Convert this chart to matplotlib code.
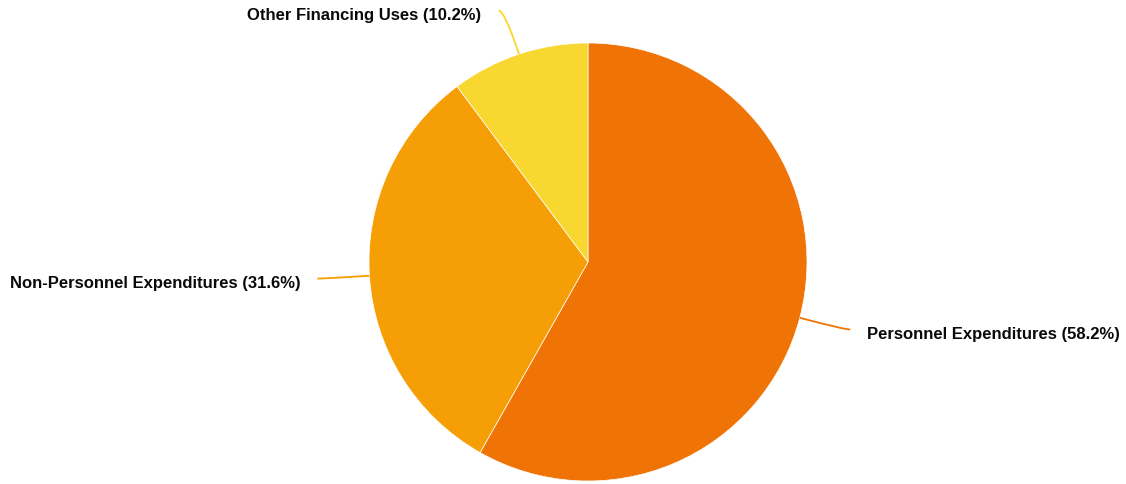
import numpy as np
import matplotlib.pyplot as plt
from matplotlib.path import Path
from matplotlib.patches import PathPatch

labels = ['Personnel Expenditures', 'Non-Personnel Expenditures', 'Other Financing Uses']
shares = [58.2, 31.6, 10.2]
colors = ['#F07306', '#F59E05', '#F8D730']

W, H = 1126, 485
fig = plt.figure(figsize=(W / 100, H / 100), dpi=100)
ax = fig.add_axes([0, 0, 1, 1])

cx, cy, r = 588, H - 263, 219
wedges, _ = ax.pie(shares, colors=colors, startangle=90, counterclock=False,
                   center=(cx, cy), radius=r, frame=True,
                   wedgeprops=dict(edgecolor='white', linewidth=0.5))
ax.set_xlim(0, W)
ax.set_ylim(0, H)
ax.set_aspect('equal')
ax.axis('off')

# label lines: radial leg, short horizontal leg, smoothed
len1, len2, gap = 46, 6, 17
for w, lab, val, col in zip(wedges, labels, shares, colors):
    mid = np.deg2rad((w.theta1 + w.theta2) / 2)
    dx, dy = np.cos(mid), np.sin(mid)
    p0 = (cx + r * dx, cy + r * dy)
    p1 = (cx + (r + len1) * dx, cy + (r + len1) * dy)
    side = 1 if dx >= 0 else -1
    p2 = (p1[0] + side * len2, p1[1])
    path = Path([p0, p1, p2], [Path.MOVETO, Path.CURVE3, Path.CURVE3])
    ax.add_patch(PathPatch(path, fill=False, edgecolor=col, linewidth=1.3))
    ax.text(p2[0] + side * gap, p2[1] - 4, f'{lab} ({val}%)',
            ha='left' if side > 0 else 'right', va='center',
            fontsize=12, fontweight='bold', color='#0a0a0a',
            family=['Liberation Sans', 'DejaVu Sans'])

fig.savefig('out.png', dpi=100)
